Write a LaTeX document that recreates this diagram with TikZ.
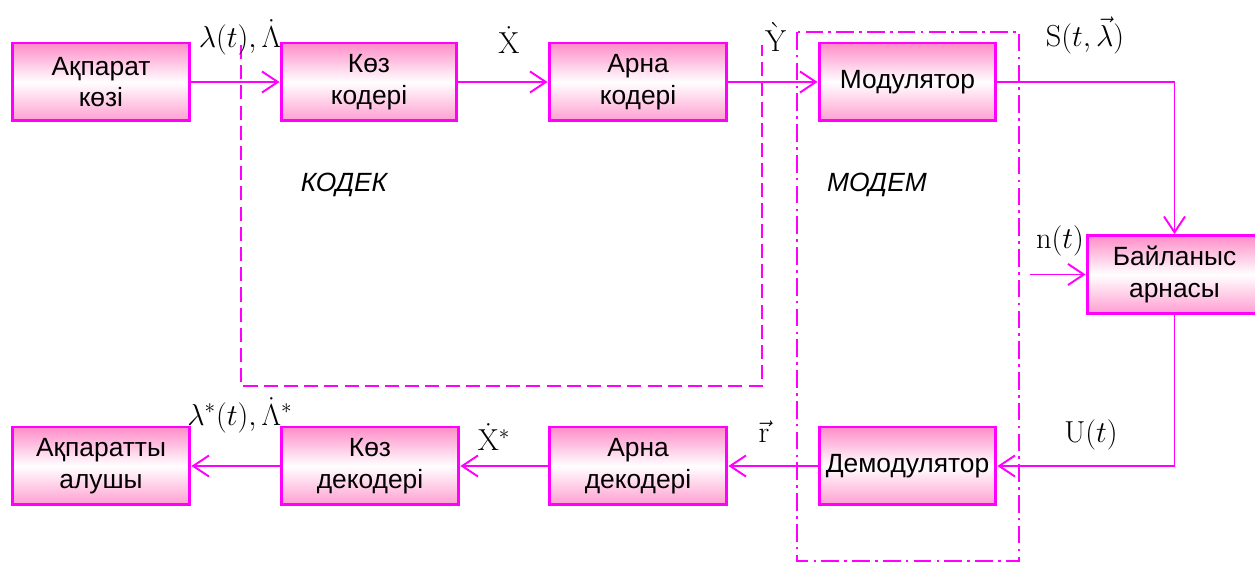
\documentclass[tikz,border=0pt]{standalone}
\usepackage[no-math]{fontspec}
\setmainfont{Liberation Sans}
\usetikzlibrary{arrows.meta}
\definecolor{mag}{RGB}{255,0,255}
\definecolor{pinkc}{RGB}{255,140,200}
\tikzset{
  blk/.style={draw=mag, line width=1.7pt, top color=pinkc, bottom color=pinkc!85, middle color=white,
    minimum height=1.56cm, inner sep=0pt, align=center,
    font=\fontsize{15}{18}\selectfont},
  conn/.style={draw=mag, line width=1.1pt, -{Straight Barb[length=9pt,width=12pt]}},
  lbl/.style={font=\fontsize{17}{20}\selectfont, inner sep=0pt},
  grp/.style={font=\fontsize{15}{18}\selectfont\itshape, inner sep=0pt}
}
\begin{document}
\begin{tikzpicture}[x=0.02cm,y=-0.02cm]
\useasboundingbox (0,0) rectangle (1255,563);
% group frames
\draw[mag, line width=1.1pt, dash pattern=on 8pt off 3.5pt] (241,45) -- (241,386) -- (762,386) -- (762,45);
\draw[mag, line width=1.1pt, dash pattern=on 10pt off 3pt on 1.5pt off 3pt] (797,32) rectangle (1019,561);
% blocks
\node[blk, minimum width=3.56cm] (src) at (101,82) {Ақпарат\\көзі};
\node[blk, minimum width=3.52cm] (kc) at (369,82) {Көз\\кодері};
\node[blk, minimum width=3.56cm] (ac) at (638,82) {Арна\\кодері};
\node[blk, minimum width=3.54cm] (mod) at (907.5,82) {Модулятор};
\node[blk, minimum width=3.50cm] (bc) at (1174.5,274.5) {Байланыс\\арнасы};
\node[blk, minimum width=3.54cm] (dem) at (907.5,466) {Демодулятор};
\node[blk, minimum width=3.56cm] (adec) at (638,466) {Арна\\декодері};
\node[blk, minimum width=3.56cm] (kdec) at (370,466) {Көз\\декодері};
\node[blk, minimum width=3.56cm] (recv) at (101,466) {Ақпаратты\\алушы};
% connectors
\coordinate (nin) at (1030,274.5);
\coordinate (c1) at (1174.5,82);
\coordinate (c2) at (1174.5,466);
\draw[conn] (src) -- (kc);
\draw[conn] (kc) -- (ac);
\draw[conn] (ac) -- (mod);
\draw[conn] (mod) -- (c1) -- (bc);
\draw[conn] (nin) -- (bc);
\draw[conn] (bc) -- (c2) -- (dem);
\draw[conn] (dem) -- (adec);
\draw[conn] (adec) -- (kdec);
\draw[conn] (kdec) -- (recv);
% labels
\node[lbl] (l1) at (240,37) {$\lambda(t),\dot{\Lambda}$};
\node[lbl] (l2) at (509,40) {$\dot{\mathrm{X}}$};
\node[lbl] (l3) at (776,37) {$\grave{\mathrm{Y}}$};
\node[lbl] (l4) at (1085,35) {$\mathrm{S}(t,\vec{\lambda})$};
\node[lbl] (l5) at (1060,241) {$\mathrm{n}(t)$};
\node[lbl] (l6) at (1091,435) {$\mathrm{U}(t)$};
\node[lbl] (l7) at (764,432) {$\vec{\mathrm{r}}$};
\node[lbl] (l8) at (494,437) {$\dot{\mathrm{X}}^{*}$};
\node[lbl] (l9) at (240,415) {$\lambda^{*}(t),\dot{\Lambda}^{*}$};
\node[grp] (g1) at (344,185) {КОДЕК};
\node[grp] (g2) at (877,185) {МОДЕМ};
\end{tikzpicture}
\end{document}
